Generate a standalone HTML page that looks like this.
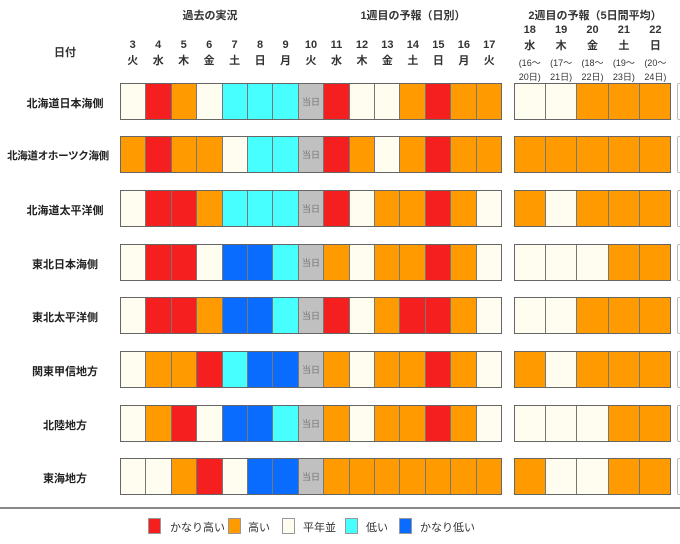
<!DOCTYPE html>
<html><head><meta charset="utf-8"><style>
body{margin:0;width:680px;height:544px;background:#fff;position:relative;overflow:hidden;font-family:"Liberation Sans","Noto Sans CJK JP",sans-serif;color:#333}
.a{position:absolute}
.t{position:absolute;font-size:11px;font-weight:bold;text-align:center;white-space:nowrap}
.row{position:absolute;height:37px;display:flex;border:1px solid #666;box-sizing:border-box}
.row div{flex:1;border-right:1px solid #777;box-sizing:border-box;font-size:9px;color:#777;display:flex;align-items:center;justify-content:center}
.row div:last-child{border-right:none}
.R{background:#f51f1f}.O{background:#ff9a00}.W{background:#fffdf0}.C{background:#48ffff}.B{background:#0a6cff}.G{background:#c0c0c0}
.lab{position:absolute;left:0;width:130px;text-align:center;font-size:11px;font-weight:bold;color:#222}
.lg{position:absolute;top:518px;width:13px;height:16px;border:1px solid #999;box-sizing:border-box}
.lt{position:absolute;top:519px;font-size:11px;color:#333}
.edge{position:absolute;left:677px;width:6px;height:37px;border:1px solid #bbb;border-radius:2px;box-sizing:border-box}
</style></head><body>
<div class="t" style="left:160px;width:100px;top:7px">過去の実況</div>
<div class="t" style="left:340px;width:146px;top:7px">1週目の予報（日別）</div>
<div class="t" style="left:515px;width:160px;top:7px">2週目の予報（5日間平均）</div>
<div class="t" style="left:20px;width:90px;top:44px">日付</div>
<div class="a" style="left:120px;top:37px;width:382px;display:flex;font-size:11px;font-weight:bold;text-align:center;line-height:16px">
<div style="flex:1">3<br>火</div><div style="flex:1">4<br>水</div><div style="flex:1">5<br>木</div><div style="flex:1">6<br>金</div><div style="flex:1">7<br>土</div><div style="flex:1">8<br>日</div><div style="flex:1">9<br>月</div><div style="flex:1">10<br>火</div><div style="flex:1">11<br>水</div><div style="flex:1">12<br>木</div><div style="flex:1">13<br>金</div><div style="flex:1">14<br>土</div><div style="flex:1">15<br>日</div><div style="flex:1">16<br>月</div><div style="flex:1">17<br>火</div></div>
<div class="a" style="left:514px;top:22px;width:157px;display:flex;font-size:11px;font-weight:bold;text-align:center;line-height:16px">
<div style="flex:1">18<br>水</div><div style="flex:1">19<br>木</div><div style="flex:1">20<br>金</div><div style="flex:1">21<br>土</div><div style="flex:1">22<br>日</div></div>
<div class="a" style="left:514px;top:56px;width:157px;display:flex;font-size:9px;text-align:center;line-height:14px;color:#333">
<div style="flex:1">(16～<br>20日)</div><div style="flex:1">(17～<br>21日)</div><div style="flex:1">(18～<br>22日)</div><div style="flex:1">(19～<br>23日)</div><div style="flex:1">(20～<br>24日)</div></div>

<div class="lab" style="top:95px">北海道日本海側</div>
<div class="row" style="left:120px;top:83px;width:382px"><div class="W"></div><div class="R"></div><div class="O"></div><div class="W"></div><div class="C"></div><div class="C"></div><div class="C"></div><div class="G">当日</div><div class="R"></div><div class="W"></div><div class="W"></div><div class="O"></div><div class="R"></div><div class="O"></div><div class="O"></div></div>
<div class="row" style="left:514px;top:83px;width:157px"><div class="W"></div><div class="W"></div><div class="O"></div><div class="O"></div><div class="O"></div></div>

<div class="lab" style="top:148px;left:-4px;width:124px;font-size:10.5px;letter-spacing:-0.3px">北海道オホーツク海側</div>
<div class="row" style="left:120px;top:136px;width:382px"><div class="O"></div><div class="R"></div><div class="O"></div><div class="O"></div><div class="W"></div><div class="C"></div><div class="C"></div><div class="G">当日</div><div class="R"></div><div class="O"></div><div class="W"></div><div class="O"></div><div class="R"></div><div class="O"></div><div class="O"></div></div>
<div class="row" style="left:514px;top:136px;width:157px"><div class="O"></div><div class="O"></div><div class="O"></div><div class="O"></div><div class="O"></div></div>

<div class="lab" style="top:202px">北海道太平洋側</div>
<div class="row" style="left:120px;top:190px;width:382px"><div class="W"></div><div class="R"></div><div class="R"></div><div class="O"></div><div class="C"></div><div class="C"></div><div class="C"></div><div class="G">当日</div><div class="R"></div><div class="W"></div><div class="O"></div><div class="O"></div><div class="R"></div><div class="O"></div><div class="W"></div></div>
<div class="row" style="left:514px;top:190px;width:157px"><div class="O"></div><div class="W"></div><div class="O"></div><div class="O"></div><div class="O"></div></div>

<div class="lab" style="top:256px">東北日本海側</div>
<div class="row" style="left:120px;top:244px;width:382px"><div class="W"></div><div class="R"></div><div class="R"></div><div class="W"></div><div class="B"></div><div class="B"></div><div class="C"></div><div class="G">当日</div><div class="O"></div><div class="W"></div><div class="O"></div><div class="O"></div><div class="R"></div><div class="O"></div><div class="W"></div></div>
<div class="row" style="left:514px;top:244px;width:157px"><div class="W"></div><div class="W"></div><div class="W"></div><div class="O"></div><div class="O"></div></div>

<div class="lab" style="top:309px">東北太平洋側</div>
<div class="row" style="left:120px;top:297px;width:382px"><div class="W"></div><div class="R"></div><div class="R"></div><div class="O"></div><div class="B"></div><div class="B"></div><div class="C"></div><div class="G">当日</div><div class="R"></div><div class="W"></div><div class="O"></div><div class="R"></div><div class="R"></div><div class="O"></div><div class="W"></div></div>
<div class="row" style="left:514px;top:297px;width:157px"><div class="W"></div><div class="W"></div><div class="O"></div><div class="O"></div><div class="O"></div></div>

<div class="lab" style="top:363px">関東甲信地方</div>
<div class="row" style="left:120px;top:351px;width:382px"><div class="W"></div><div class="O"></div><div class="O"></div><div class="R"></div><div class="C"></div><div class="B"></div><div class="B"></div><div class="G">当日</div><div class="O"></div><div class="W"></div><div class="O"></div><div class="O"></div><div class="R"></div><div class="O"></div><div class="W"></div></div>
<div class="row" style="left:514px;top:351px;width:157px"><div class="O"></div><div class="W"></div><div class="O"></div><div class="O"></div><div class="O"></div></div>

<div class="lab" style="top:417px">北陸地方</div>
<div class="row" style="left:120px;top:405px;width:382px"><div class="W"></div><div class="O"></div><div class="R"></div><div class="W"></div><div class="B"></div><div class="B"></div><div class="C"></div><div class="G">当日</div><div class="O"></div><div class="W"></div><div class="O"></div><div class="O"></div><div class="R"></div><div class="O"></div><div class="W"></div></div>
<div class="row" style="left:514px;top:405px;width:157px"><div class="W"></div><div class="W"></div><div class="W"></div><div class="O"></div><div class="O"></div></div>

<div class="lab" style="top:470px">東海地方</div>
<div class="row" style="left:120px;top:458px;width:382px"><div class="W"></div><div class="W"></div><div class="O"></div><div class="R"></div><div class="W"></div><div class="B"></div><div class="B"></div><div class="G">当日</div><div class="O"></div><div class="O"></div><div class="O"></div><div class="O"></div><div class="O"></div><div class="O"></div><div class="O"></div></div>
<div class="row" style="left:514px;top:458px;width:157px"><div class="O"></div><div class="W"></div><div class="W"></div><div class="O"></div><div class="O"></div></div>

<div class="edge" style="top:83px"></div><div class="edge" style="top:136px"></div><div class="edge" style="top:190px"></div><div class="edge" style="top:244px"></div><div class="edge" style="top:297px"></div><div class="edge" style="top:351px"></div><div class="edge" style="top:405px"></div><div class="edge" style="top:458px"></div>

<div class="a" style="left:0;top:507px;width:680px;height:2px;background:#888"></div>
<div class="lg R" style="left:148px"></div><div class="lt" style="left:170px">かなり高い</div>
<div class="lg O" style="left:228px"></div><div class="lt" style="left:248px">高い</div>
<div class="lg W" style="left:282px"></div><div class="lt" style="left:303px">平年並</div>
<div class="lg C" style="left:345px"></div><div class="lt" style="left:366px">低い</div>
<div class="lg B" style="left:399px"></div><div class="lt" style="left:420px">かなり低い</div>
</body></html>
